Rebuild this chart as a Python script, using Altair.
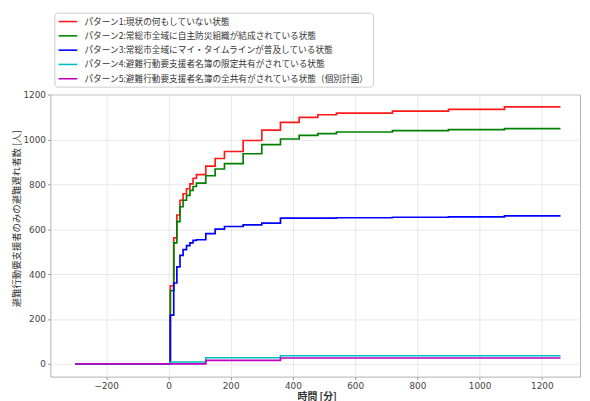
import altair as alt
import pandas as pd

times = [-300, 6, 17, 27, 37, 47, 58, 69, 79, 90, 120, 150, 180, 240, 300,
         360, 420, 480, 540, 720, 900, 1080, 1260]

pattern1 = [0, 348, 561, 663, 729, 758, 780, 802, 827, 843, 881, 915, 946, 995, 1041,
            1076, 1098, 1110, 1117, 1126, 1134, 1145, 1145]
pattern2 = [0, 326, 539, 634, 700, 729, 751, 773, 790, 805, 838, 868, 892, 936, 977,
            1002, 1018, 1026, 1033, 1039, 1044, 1048, 1048]
pattern3 = [0, 217, 360, 432, 483, 509, 527, 539, 550, 553, 580, 600, 612, 619, 627,
            649, 649, 649, 651, 653, 655, 659, 659]
pattern4 = [0, 8, 8, 8, 8, 8, 8, 8, 8, 8, 27, 27, 27, 27, 27,
            36, 36, 36, 36, 36, 36, 36, 36]
pattern5 = [0, 0, 0, 0, 0, 0, 0, 0, 0, 0, 15, 15, 15, 15, 15,
            26, 26, 26, 26, 26, 26, 26, 26]

labels = [
    "パターン1:現状の何もしていない状態",
    "パターン2:常総市全域に自主防災組織が結成されている状態",
    "パターン3:常総市全域にマイ・タイムラインが普及している状態",
    "パターン4:避難行動要支援者名簿の限定共有がされている状態",
    "パターン5:避難行動要支援者名簿の全共有がされている状態（個別計画）",
]
colors = ["#ff1a1a", "#008000", "#0000ff", "#00bfbf", "#bf00bf"]
x_ticks = [-200, 0, 200, 400, 600, 800, 1000, 1200]
y_ticks = [0, 200, 400, 600, 800, 1000, 1200]

series = [pattern1, pattern2, pattern3, pattern4, pattern5]
rows = []
for lab, vals in zip(labels, series):
    for t, v in zip(times, vals):
        rows.append({"時間": t, "人数": v, "パターン": lab})
df = pd.DataFrame(rows)

chart = alt.Chart(df).mark_line(interpolate="step-after", strokeWidth=1.7, clip=True).encode(
    x=alt.X("時間:Q",
            scale=alt.Scale(domain=[-379.4, 1322.7], nice=False, zero=False),
            axis=alt.Axis(values=x_ticks, title="時間 [分]", format="d",
                          titleFontWeight="bold", titleFontSize=10, titlePadding=1,
                          titleX=270, titleAlign="center", labelPadding=2)),
    y=alt.Y("人数:Q",
            scale=alt.Scale(domain=[-57, 1200], nice=False, zero=False),
            axis=alt.Axis(values=y_ticks, title="避難行動要支援者のみの避難遅れ者数 [人]",
                          format="d", titleAngle=270, titleX=-34, titleY=125.5,
                          titleAlign="center", titleBaseline="middle",
                          titleFontSize=9.5, titleFontWeight="normal", labelPadding=2)),
    color=alt.Color("パターン:N",
                    scale=alt.Scale(domain=labels, range=colors),
                    legend=alt.Legend(title=None, orient="none", legendX=4, legendY=-83,
                                      padding=3, symbolType="M-2,0H2", symbolSize=90,
                                      symbolStrokeWidth=1.6, symbolOffset=4.75,
                                      labelOffset=10.75, rowPadding=3.5,
                                      strokeColor="#cccccc", fillColor="white",
                                      cornerRadius=3, labelLimit=0,
                                      labelFont="Noto Sans CJK JP", labelFontSize=8.8,
                                      labelColor="#333333")),
).properties(
    width=537, height=286,
    autosize=alt.AutoSizeParams(type="none"),
    padding={"left": 43, "top": 85, "right": 2, "bottom": 22},
).configure_view(
    stroke="#b0b0b0", strokeWidth=1
).configure_axis(
    domain=False, grid=True, gridColor="#e8e8e8", gridWidth=1,
    tickColor="#999999", tickSize=3,
    labelFont="DejaVu Sans", labelFontSize=9, labelColor="#444444",
    titleFont="Noto Sans CJK JP", titleColor="#333333",
)

chart.save("out.html", embed_options={"renderer": "svg", "actions": False})
